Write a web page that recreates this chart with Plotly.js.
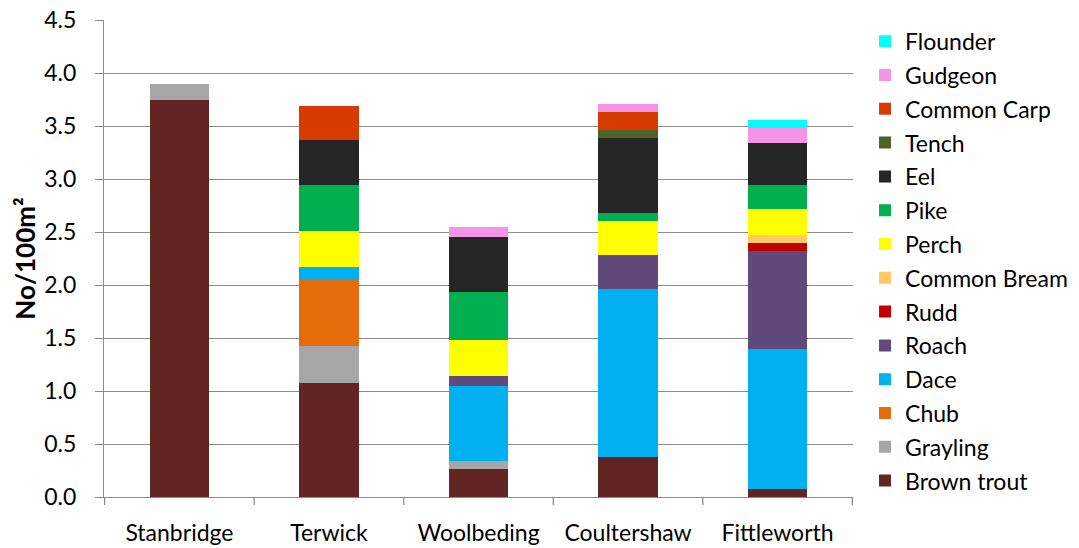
<!DOCTYPE html>
<html>
<head>
<meta charset="utf-8">
<script src="https://cdn.plot.ly/plotly-3.0.1.min.js"></script>
<style>
  html, body { margin: 0; padding: 0; background: #ffffff; }
  #chart { width: 1079px; height: 548px; }
</style>
</head>
<body>
<div id="chart"></div>
<script>
// Sites along the river, upstream to downstream
const sites = ['Stanbridge', 'Terwick', 'Woolbeding', 'Coultershaw', 'Fittleworth'];

// Fish density per species (No/100m²), one value per site; null = not recorded
const brownTrout  = [3.75, 1.08, 0.26, 0.38, 0.08];
const grayling    = [0.15, 0.34, 0.08, null, null];
const chub        = [null, 0.64, null, null, null];
const dace        = [null, 0.11, 0.71, 1.58, 1.32];
const roach       = [null, null, 0.09, 0.32, 0.92];
const rudd        = [null, null, null, null, 0.08];
const commonBream = [null, null, null, null, 0.075];
const perch       = [null, 0.34, 0.34, 0.32, 0.24];
const pike        = [null, 0.43, 0.45, 0.075, 0.23];
const eel         = [null, 0.43, 0.52, 0.71, 0.39];
const tench       = [null, null, null, 0.075, null];
const commonCarp  = [null, 0.32, null, 0.17, null];
const gudgeon     = [null, null, 0.10, 0.08, 0.15];
const flounder    = [null, null, null, null, 0.07];

// Stacking order, bottom to top
const species = [
  { name: 'Brown trout',  values: brownTrout,  color: '#632523' },
  { name: 'Grayling',     values: grayling,    color: '#a6a6a6' },
  { name: 'Chub',         values: chub,        color: '#e46c0a' },
  { name: 'Dace',         values: dace,        color: '#00b0f0' },
  { name: 'Roach',        values: roach,       color: '#604a7b' },
  { name: 'Rudd',         values: rudd,        color: '#c00000' },
  { name: 'Common Bream', values: commonBream, color: '#ffc965' },
  { name: 'Perch',        values: perch,       color: '#ffff00' },
  { name: 'Pike',         values: pike,        color: '#00b050' },
  { name: 'Eel',          values: eel,         color: '#262626' },
  { name: 'Tench',        values: tench,       color: '#4f6228' },
  { name: 'Common Carp',  values: commonCarp,  color: '#d83b01' },
  { name: 'Gudgeon',      values: gudgeon,     color: '#f394e9' },
  { name: 'Flounder',     values: flounder,    color: '#00ffff' }
];

// Legend lists the top of the stack first
const traces = species.map((s, i) => ({
  type: 'bar',
  name: s.name,
  legendgroup: s.name,
  legendrank: species.length - i,
  x: sites,
  y: s.values,
  marker: { color: s.color, line: { width: 0 } },
  hovertemplate: '%{x}<br>' + s.name + ': %{y}<extra></extra>'
}));

const FONT = 'Lato, "Open Sans", "DejaVu Sans", sans-serif';
const FS = 23;
const AXIS_GREY = '#8c8c8c';

const layout = {
  width: 1079,
  height: 548,
  margin: { l: 104, r: 226, t: 20, b: 51, pad: 0, autoexpand: false },
  paper_bgcolor: '#ffffff',
  plot_bgcolor: '#ffffff',
  barmode: 'stack',
  bargap: 0.6,
  font: { family: FONT, size: FS, color: '#000000' },
  showlegend: true,
  legend: {
    xref: 'container',
    x: 0.8017,
    xanchor: 'left',
    yref: 'container',
    y: 0.964,
    yanchor: 'top',
    traceorder: 'grouped',
    tracegroupgap: 0.9,
    maxheight: 540,
    font: { family: FONT, size: FS, color: '#000000' },
    bgcolor: 'rgba(0,0,0,0)',
    borderwidth: 0
  },
  xaxis: {
    type: 'category',
    showline: true,
    linecolor: AXIS_GREY,
    linewidth: 1.3,
    ticks: '',
    showgrid: false,
    tickfont: { family: FONT, size: FS, color: '#000000' },
    ticklabelstandoff: 15
  },
  yaxis: {
    range: [0, 4.5],
    dtick: 0.5,
    tick0: 0,
    tickformat: '.1f',
    showline: true,
    linecolor: AXIS_GREY,
    linewidth: 1.3,
    ticks: 'outside',
    ticklen: 8,
    tickwidth: 1.3,
    tickcolor: AXIS_GREY,
    showgrid: true,
    gridcolor: AXIS_GREY,
    gridwidth: 1.3,
    zeroline: false,
    tickfont: { family: FONT, size: FS, color: '#000000' },
    ticklabelstandoff: 14,
    title: {
      text: '<b>No/100m²</b>',
      font: { family: FONT, size: 26, color: '#000000' },
      standoff: 1
    }
  },
  shapes: sites.map((_, i) => ({
    // category boundary tick marks below the x axis
    type: 'line',
    xref: 'x',
    yref: 'paper',
    x0: i + 0.5,
    x1: i + 0.5,
    y0: 0,
    y1: -0.017,
    line: { color: AXIS_GREY, width: 1.3 }
  })).concat([{
    type: 'line',
    xref: 'x',
    yref: 'paper',
    x0: -0.5,
    x1: -0.5,
    y0: 0,
    y1: -0.017,
    line: { color: AXIS_GREY, width: 1.3 }
  }])
};

Plotly.newPlot('chart', traces, layout, { displayModeBar: false });
</script>
</body>
</html>
